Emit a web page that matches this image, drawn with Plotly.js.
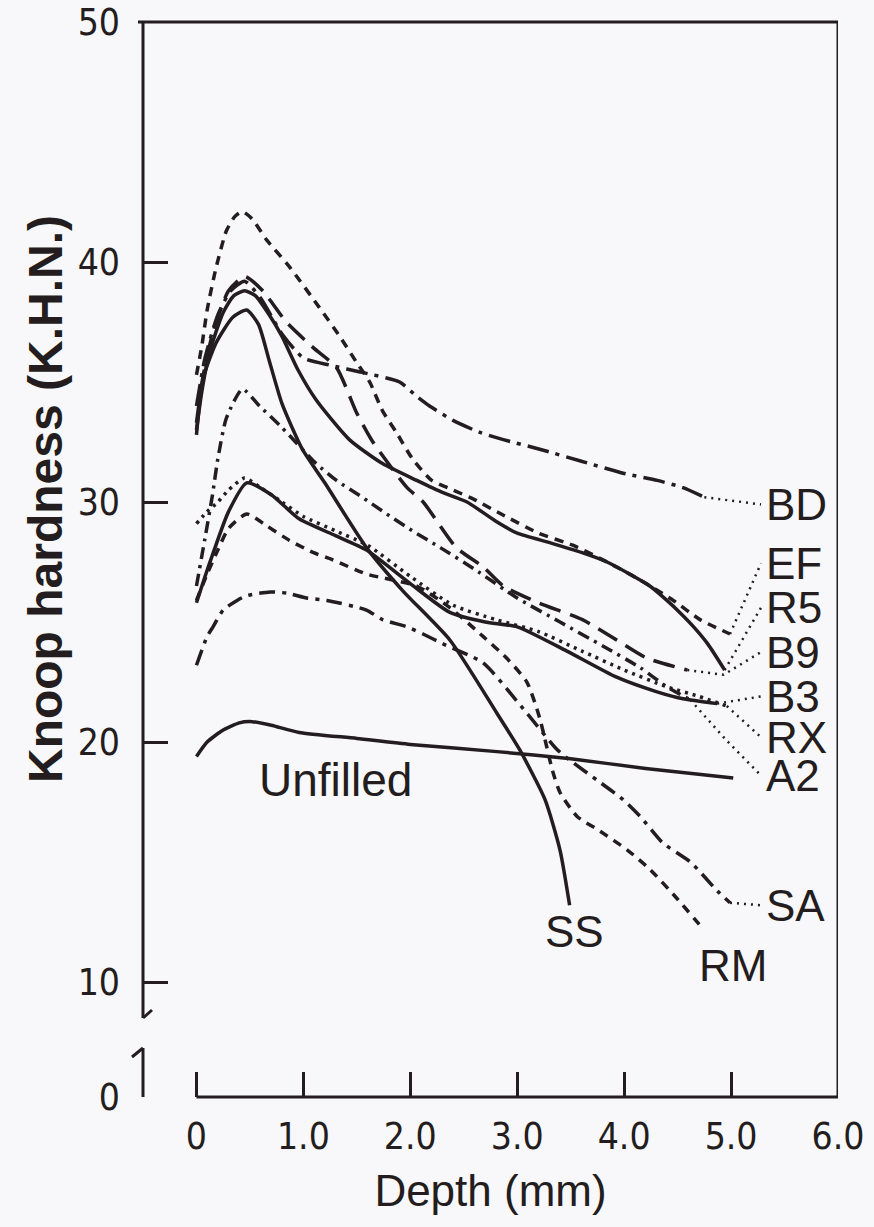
<!DOCTYPE html>
<html><head><meta charset="utf-8">
<script src="https://cdn.plot.ly/plotly-3.0.1.min.js"></script>
<style>html,body{margin:0;padding:0;background:#f8f7f9;}#chart{width:874px;height:1227px;}</style>
</head><body><div id="chart"></div>
<script>
// ---------------- data (Depth mm, Knoop hardness K.H.N.) ----------------
const xTickVals = [0, 1, 2, 3, 4, 5, 6];
const xTickText = ['0', '1.0', '2.0', '3.0', '4.0', '5.0', '6.0'];
const yTickVals = [5.21, 10, 20, 30, 40, 50];   // 5.21 is the broken-axis "0"
const yTickText = ['0', '10', '20', '30', '40', '50'];

const efX = [0, 0.05, 0.1, 0.18, 0.28, 0.36, 0.43, 0.52, 0.66, 0.87, 1.15, 1.34, 1.5, 1.62, 1.74, 1.87, 2.02, 2.2, 2.4, 2.6, 2.85, 3.2, 3.52, 3.84, 4.15, 4.46, 4.71, 4.99];
const efY = [35.3, 36.5, 38.0, 39.7, 41.3, 41.9, 42.1, 41.8, 40.9, 39.8, 38.1, 36.9, 35.8, 35.0, 33.8, 32.9, 31.8, 30.9, 30.5, 30.1, 29.5, 28.7, 28.2, 27.5, 26.75, 25.9, 25.1, 24.5];

const r5X = [0, 0.05, 0.12, 0.25, 0.35, 0.45, 0.55, 0.68, 0.8, 0.95, 1.12, 1.43, 1.74, 2.06, 2.3, 2.53, 2.8, 3.0, 3.31, 3.6, 3.84, 4.05, 4.24, 4.4, 4.52, 4.65, 4.78, 4.94];
const r5Y = [33.0, 34.6, 36.2, 37.9, 38.6, 38.8, 38.6, 37.8, 36.9, 35.5, 34.25, 32.6, 31.6, 30.9, 30.4, 30.0, 29.2, 28.7, 28.3, 27.9, 27.5, 27.0, 26.5, 25.9, 25.4, 24.8, 24.1, 23.0];

const ssX = [0, 0.06, 0.18, 0.34, 0.47, 0.58, 0.68, 0.8, 0.99, 1.2, 1.59, 1.93, 2.37, 2.81, 3.02, 3.26, 3.4, 3.49];
const ssY = [32.8, 35.1, 36.6, 37.7, 38.0, 37.4, 35.9, 34.1, 32.2, 30.8, 28.1, 26.3, 24.25, 21.2, 19.7, 17.6, 15.5, 13.2];

const bdX = [0, 0.08, 0.2, 0.32, 0.45, 0.6, 0.8, 1.0, 1.25, 1.55, 1.9, 2.06, 2.18, 2.4, 2.65, 2.87, 3.21, 3.6, 3.99, 4.31, 4.55, 4.75];
const bdY = [34.0, 36.0, 37.8, 38.8, 39.2, 38.5, 37.0, 36.0, 35.7, 35.4, 35.0, 34.4, 34.0, 33.4, 32.9, 32.6, 32.2, 31.7, 31.2, 30.9, 30.6, 30.2];

const b9X = [0, 0.06, 0.15, 0.3, 0.45, 0.62, 0.84, 1.1, 1.31, 1.5, 1.65, 1.97, 2.12, 2.43, 2.68, 2.87, 3.2, 3.61, 3.93, 4.21, 4.59];
const b9Y = [33.3, 35.2, 37.0, 38.8, 39.4, 38.8, 37.5, 36.4, 35.6, 33.7, 32.5, 30.6, 30.0, 28.1, 27.3, 26.5, 25.8, 25.1, 24.25, 23.5, 23.0];

const b3X = [0, 0.08, 0.15, 0.3, 0.47, 0.7, 0.96, 1.3, 1.59, 2.0, 2.37, 2.7, 3.0, 3.46, 3.93, 4.3, 4.55, 4.87];
const b3Y = [25.8, 26.9, 27.8, 29.6, 30.8, 30.3, 29.3, 28.6, 28.0, 26.6, 25.4, 25.0, 24.8, 23.8, 22.7, 22.1, 21.8, 21.6];

const rxX = [0, 0.1, 0.2, 0.3, 0.45, 0.6, 0.8, 1.0, 1.3, 1.6, 2.0, 2.4, 2.8, 3.2, 3.6, 4.0, 4.4, 4.7, 4.96];
const rxY = [29.1, 29.6, 30.0, 30.5, 31.0, 30.6, 30.0, 29.4, 28.8, 28.2, 26.9, 25.7, 25.1, 24.6, 23.8, 23.0, 22.3, 21.9, 21.5];

const a2X = [0, 0.08, 0.15, 0.2, 0.28, 0.43, 0.59, 0.8, 1.12, 1.31, 1.55, 1.78, 2.02, 2.28, 2.6, 3.0, 3.4, 3.8, 4.15, 4.4, 4.62];
const a2Y = [26.5, 28.5, 30.3, 31.8, 33.5, 34.7, 34.0, 33.1, 31.6, 30.9, 30.2, 29.5, 28.8, 28.1, 27.2, 26.0, 25.0, 24.0, 23.1, 22.3, 21.75];

const saX = [0, 0.1, 0.155, 0.25, 0.38, 0.47, 0.69, 0.85, 1.03, 1.22, 1.59, 1.74, 1.97, 2.12, 2.3, 2.68, 3.09, 3.37, 3.49, 3.75, 3.99, 4.15, 4.36, 4.62, 4.87, 4.99];
const saY = [23.2, 24.4, 24.8, 25.5, 25.9, 26.1, 26.25, 26.2, 26.0, 25.9, 25.5, 25.1, 24.8, 24.5, 24.1, 23.3, 21.2, 19.7, 19.25, 18.4, 17.6, 16.9, 15.8, 15.0, 13.8, 13.3];

const rmX = [0, 0.1, 0.2, 0.3, 0.47, 0.66, 0.87, 1.09, 1.27, 1.59, 2.06, 2.37, 2.68, 2.9, 3.09, 3.21, 3.33, 3.4, 3.56, 3.77, 4.03, 4.24, 4.49, 4.74];
const rmY = [25.9, 27.0, 28.0, 28.9, 29.5, 29.0, 28.4, 27.9, 27.6, 27.0, 26.5, 25.6, 24.4, 23.5, 22.5, 21.0, 18.8, 17.9, 16.9, 16.3, 15.5, 14.7, 13.5, 12.2];

const unX = [0, 0.1, 0.25, 0.4, 0.52, 0.7, 0.96, 1.5, 2.0, 2.81, 3.5, 4.2, 5.02];
const unY = [19.4, 20.0, 20.5, 20.8, 20.85, 20.7, 20.4, 20.15, 19.9, 19.6, 19.3, 18.9, 18.5];

// ---------------- layout / style ----------------
const W = 874, H = 1227, ML = 143, MR = 36, MT = 22, MB = 130;
const XR = [-0.5, 6.0], YR = [5.21, 50];
const INK = '#231d20';
const pxp = px => (px - ML) / (W - ML - MR);
const pyp = py => (H - MB - py) / (H - MT - MB);

const LABEL_X = 5.31;
const series = [
  {name: 'BD', x: bdX, y: bdY, dash: '22px,7px,4px,7px', ly: 29.9, via: null},
  {name: 'EF', x: efX, y: efY, dash: '9px,7px', ly: 27.45, via: null},
  {name: 'R5', x: r5X, y: r5Y, dash: 'solid', ly: 25.6, via: null},
  {name: 'B9', x: b9X, y: b9Y, dash: '22px,10px', ly: 23.75, via: [4.93, 22.8]},
  {name: 'B3', x: b3X, y: b3Y, dash: 'solid', ly: 21.9, via: null},
  {name: 'RX', x: rxX, y: rxY, dash: '3px,5px', ly: 20.2, via: null},
  {name: 'A2', x: a2X, y: a2Y, dash: '12px,6px,3px,6px', ly: 18.6, via: [4.95, 20.1]},
  {name: 'SA', x: saX, y: saY, dash: '16px,7px,4px,7px', ly: 13.2, via: null},
  {name: 'SS', x: ssX, y: ssY, dash: 'solid', ly: null},
  {name: 'RM', x: rmX, y: rmY, dash: '9px,7px', ly: null},
  {name: 'Unfilled', x: unX, y: unY, dash: 'solid', ly: null}
];

const traces = [];
series.forEach(s => {
  traces.push({x: s.x, y: s.y, mode: 'lines', name: s.name, hoverinfo: 'name',
    line: {color: INK, width: 3.5, dash: s.dash, shape: 'spline', smoothing: 0.6}});
  if (s.ly !== null) {
    const lx = [s.x[s.x.length - 1]], lyy = [s.y[s.y.length - 1]];
    if (s.via) { lx.push(s.via[0]); lyy.push(s.via[1]); }
    lx.push(LABEL_X - 0.03); lyy.push(s.ly);
    traces.push({x: lx, y: lyy, mode: 'lines', hoverinfo: 'skip', showlegend: false,
      line: {color: INK, width: 2.5, dash: '2px,5px'}});
  }
});

const lblFont = {family: 'Liberation Sans, Arial, sans-serif', size: 44, color: INK};
const annotations = series.filter(s => s.ly !== null).map(s => ({
  x: LABEL_X, y: s.ly, xref: 'x', yref: 'y', text: s.name, showarrow: false,
  xanchor: 'left', yanchor: 'middle', font: lblFont
}));
annotations.push({x: 3.54, y: 12.1, xref: 'x', yref: 'y', text: 'SS', showarrow: false, xanchor: 'center', yanchor: 'middle', font: lblFont});
annotations.push({x: 5.02, y: 10.67, xref: 'x', yref: 'y', text: 'RM', showarrow: false, xanchor: 'center', yanchor: 'middle', font: lblFont});
annotations.push({x: 1.30, y: 18.4, xref: 'x', yref: 'y', text: 'Unfilled', showarrow: false, xanchor: 'center', yanchor: 'middle', font: {family: 'Liberation Sans, Arial, sans-serif', size: 46, color: INK}});
annotations.push({x: pxp(46), y: pyp(499), xref: 'paper', yref: 'paper', text: 'Knoop hardness (K.H.N.)',
  showarrow: false, textangle: -90, xanchor: 'center', yanchor: 'middle',
  font: {family: 'Liberation Sans, Arial, sans-serif', size: 48, color: INK, weight: 'bold'}});

const lineStyle = {color: INK, width: 3};
const shapes = [
  {type: 'line', xref: 'x', yref: 'paper', x0: 0, x1: 6, y0: 0, y1: 0, line: lineStyle},
  {type: 'line', xref: 'x', yref: 'paper', x0: 6, x1: 6, y0: 0, y1: 1, line: lineStyle},
  {type: 'line', xref: 'paper', yref: 'paper', x0: pxp(138), x1: pxp(838), y0: 1, y1: 1, line: lineStyle},
  {type: 'line', xref: 'paper', yref: 'paper', x0: 0, x1: 0, y0: pyp(1018), y1: 1, line: lineStyle},
  {type: 'line', xref: 'paper', yref: 'paper', x0: 0, x1: pxp(152), y0: pyp(1018), y1: pyp(1010), line: lineStyle},
  {type: 'line', xref: 'paper', yref: 'paper', x0: 0, x1: 0, y0: 0, y1: pyp(1048), line: lineStyle},
  {type: 'line', xref: 'paper', yref: 'paper', x0: 0, x1: pxp(132), y0: pyp(1048), y1: pyp(1057), line: lineStyle}
];

const tickFont = {family: 'Liberation Sans Narrow, DejaVu Sans Condensed, Arial Narrow, sans-serif', size: 37, color: INK};
const layout = {
  width: W, height: H,
  margin: {l: ML, r: MR, t: MT, b: MB},
  paper_bgcolor: '#f8f7f9', plot_bgcolor: 'rgba(0,0,0,0)',
  showlegend: false,
  xaxis: {range: XR, showgrid: false, zeroline: false, showline: false,
    tickmode: 'array', tickvals: xTickVals, ticktext: xTickText,
    ticks: 'inside', ticklen: 25, tickwidth: 3, tickcolor: INK,
    ticklabelstandoff: 14, tickfont: tickFont,
    title: {text: 'Depth (mm)', standoff: 18, font: {family: 'Liberation Sans, Arial, sans-serif', size: 44, color: INK}}},
  yaxis: {range: YR, showgrid: false, zeroline: false, showline: false,
    tickmode: 'array', tickvals: yTickVals, ticktext: yTickText,
    ticks: 'inside', ticklen: 25, tickwidth: 3, tickcolor: INK,
    ticklabelstandoff: 22, tickfont: tickFont},
  shapes: shapes,
  annotations: annotations
};

Plotly.newPlot('chart', traces, layout, {displayModeBar: false, staticPlot: true});
</script>
</body></html>
